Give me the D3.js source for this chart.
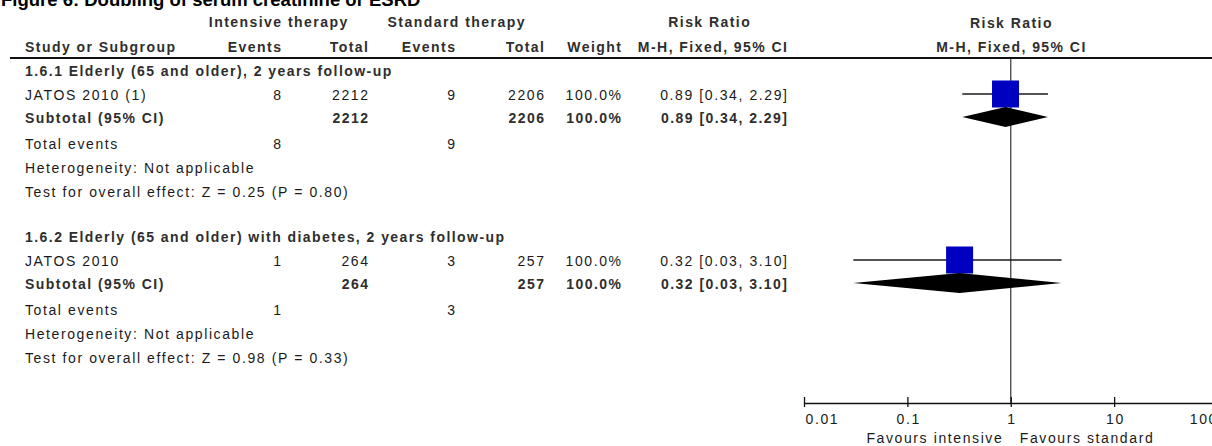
<!DOCTYPE html>
<html>
<head>
<meta charset="utf-8">
<script src="https://cdn.jsdelivr.net/npm/d3@7"></script>
<style>
  body { margin: 0; background: #fff; }
  text { font-family: "Liberation Sans", Arial, sans-serif; }
</style>
</head>
<body>
<div id="chart"></div>
<script>
// data
const titleText = "Figure 6: Doubling of serum creatinine or ESRD";
const groupTitles = [
    "1.6.1 Elderly (65 and older), 2 years follow-up",
    "1.6.2 Elderly (65 and older) with diabetes, 2 years follow-up"
];
const studyNames = ["JATOS 2010 (1)", "JATOS 2010"];
const intEvents = [8, 1];
const intTotal = [2212, 264];
const stdEvents = [9, 3];
const stdTotal = [2206, 257];
const weights = [100.0, 100.0];
const riskRatio = [0.89, 0.32];
const ciLow = [0.34, 0.03];
const ciHigh = [2.29, 3.10];
const zTests = ["Z = 0.25 (P = 0.80)", "Z = 0.98 (P = 0.33)"];
const axisTicks = [0.01, 0.1, 1, 10, 100];
const favours = ["Favours intensive", "Favours standard"];

const width = 1212, height = 446;
const LS = 1.6, LSB = 1.45;   // letter spacing, regular / bold

const svg = d3.select("#chart")
    .append("svg")
    .attr("width", width)
    .attr("height", height);

// log scale for the risk ratio panel
const x = d3.scaleLog()
    .domain([0.01, 100])
    .range([804, 1217.5]);

// square size from weight
const boxSize = d3.scaleSqrt()
    .domain([0, 100])
    .range([0, 27]);

// column right edges
const col = { label: 25, intEv: 281, intTot: 368, stdEv: 455, stdTot: 544, weight: 621, rr: 787 };

function txt(xp, yp, s, opt) {
    opt = opt || {};
    const bold = !!opt.bold;
    const ls = bold ? LSB : LS;
    const anchor = opt.anchor || "start";
    let dx = 0;
    if (anchor === "end") dx = ls;
    if (anchor === "middle") dx = ls / 2;
    return svg.append("text")
        .attr("x", xp + dx)
        .attr("y", yp)
        .attr("text-anchor", anchor)
        .style("font-size", (opt.size || 14) + "px")
        .style("font-weight", bold ? "bold" : "normal")
        .style("letter-spacing", (opt.ls != null ? opt.ls : ls) + "px")
        .style("fill", bold ? "#2e2e2e" : "#1a1a1a")
        .text(s);
}

const fmt = d3.format(".2f");
const rrLabel = i => `${fmt(riskRatio[i])} [${fmt(ciLow[i])}, ${fmt(ciHigh[i])}]`;

// title (cut off at the top like the source)
txt(1, 6, titleText, { bold: true, size: 18.5, ls: 0 }).style("fill", "#000");

// header rows
txt(278, 27, "Intensive therapy", { bold: true, anchor: "middle" });
txt(456, 27, "Standard therapy", { bold: true, anchor: "middle" });
txt(709, 27, "Risk Ratio", { bold: true, anchor: "middle" });
txt(x(1), 28, "Risk Ratio", { bold: true, anchor: "middle" });

txt(col.label, 52, "Study or Subgroup", { bold: true });
txt(col.intEv, 52, "Events", { bold: true, anchor: "end" });
txt(col.intTot, 52, "Total", { bold: true, anchor: "end" });
txt(col.stdEv, 52, "Events", { bold: true, anchor: "end" });
txt(col.stdTot, 52, "Total", { bold: true, anchor: "end" });
txt(col.weight, 52, "Weight", { bold: true, anchor: "end" });
txt(col.rr, 52, "M-H, Fixed, 95% CI", { bold: true, anchor: "end" });
txt(x(1), 52, "M-H, Fixed, 95% CI", { bold: true, anchor: "middle" });

svg.append("line")
    .attr("x1", 10).attr("x2", width)
    .attr("y1", 58).attr("y2", 58)
    .style("stroke", "#111")
    .style("stroke-width", 2);

// line of no effect
const axisY = 403;
svg.append("line")
    .attr("x1", x(1)).attr("x2", x(1))
    .attr("y1", 59).attr("y2", axisY)
    .style("stroke", "#444")
    .style("stroke-width", 1.3);

// groups
const groupTop = [71, 237];
groupTitles.forEach((g, i) => {
    const top = groupTop[i];
    const yStudy = top + 24, ySub = top + 47, yTot = top + 73, yHet = top + 97, yTest = top + 121;

    txt(col.label, top + 5, g, { bold: true });

    // study row
    txt(col.label, yStudy + 5, studyNames[i]);
    txt(col.intEv, yStudy + 5, intEvents[i], { anchor: "end" });
    txt(col.intTot, yStudy + 5, intTotal[i], { anchor: "end" });
    txt(col.stdEv, yStudy + 5, stdEvents[i], { anchor: "end" });
    txt(col.stdTot, yStudy + 5, stdTotal[i], { anchor: "end" });
    txt(col.weight, yStudy + 5, d3.format(".1f")(weights[i]) + "%", { anchor: "end" });
    txt(col.rr, yStudy + 5, rrLabel(i), { anchor: "end" });

    const yc = yStudy - 1;
    svg.append("line")
        .attr("x1", x(ciLow[i])).attr("x2", x(ciHigh[i]))
        .attr("y1", yc).attr("y2", yc)
        .style("stroke", "#1a1a1a")
        .style("stroke-width", 1.3);
    const s = boxSize(weights[i]);
    svg.append("rect")
        .attr("x", x(riskRatio[i]) - s / 2)
        .attr("y", yc - s / 2)
        .attr("width", s).attr("height", s)
        .style("fill", "#0000c0");

    // subtotal row
    txt(col.label, ySub + 5, "Subtotal (95% CI)", { bold: true });
    txt(col.intTot, ySub + 5, intTotal[i], { bold: true, anchor: "end" });
    txt(col.stdTot, ySub + 5, stdTotal[i], { bold: true, anchor: "end" });
    txt(col.weight, ySub + 5, d3.format(".1f")(weights[i]) + "%", { bold: true, anchor: "end" });
    txt(col.rr, ySub + 5, rrLabel(i), { bold: true, anchor: "end" });

    const yd = ySub - 1;
    const diamond = [
        [x(ciLow[i]), yd], [x(riskRatio[i]), yd - 10],
        [x(ciHigh[i]), yd], [x(riskRatio[i]), yd + 10]
    ];
    svg.append("path")
        .attr("d", d3.line()(diamond) + "Z")
        .style("fill", "#000");

    // totals and tests
    txt(col.label, yTot + 5, "Total events");
    txt(col.intEv, yTot + 5, intEvents[i], { anchor: "end" });
    txt(col.stdEv, yTot + 5, stdEvents[i], { anchor: "end" });
    txt(col.label, yHet + 5, "Heterogeneity: Not applicable");
    txt(col.label, yTest + 5, "Test for overall effect: " + zTests[i]);
});

// axis
const axisG = svg.append("g")
    .attr("transform", `translate(0,${axisY})`)
    .call(d3.axisBottom(x).tickValues(axisTicks).tickSizeOuter(0).tickFormat(d3.format("~g")));
axisG.select(".domain").style("stroke", "#111").style("stroke-width", 1.3);
axisG.selectAll(".tick line")
    .attr("y1", -6).attr("y2", 4)
    .style("stroke", "#111").style("stroke-width", 1.3);
axisG.selectAll(".tick text")
    .attr("y", 21).attr("dy", null)
    .style("font-size", "14px")
    .style("letter-spacing", LS + "px")
    .style("fill", "#1a1a1a")
    .attr("font-family", null)
    .attr("text-anchor", (d, i) => i === 0 ? "start" : (i === axisTicks.length - 1 ? "end" : "middle"))
    .attr("x", (d, i) => i === 0 ? 1 : (i === axisTicks.length - 1 ? 0 : LS / 2));

txt(x(1) - 9, 443, favours[0], { anchor: "end" });
txt(x(1) + 9, 443, favours[1]);
</script>
</body>
</html>
